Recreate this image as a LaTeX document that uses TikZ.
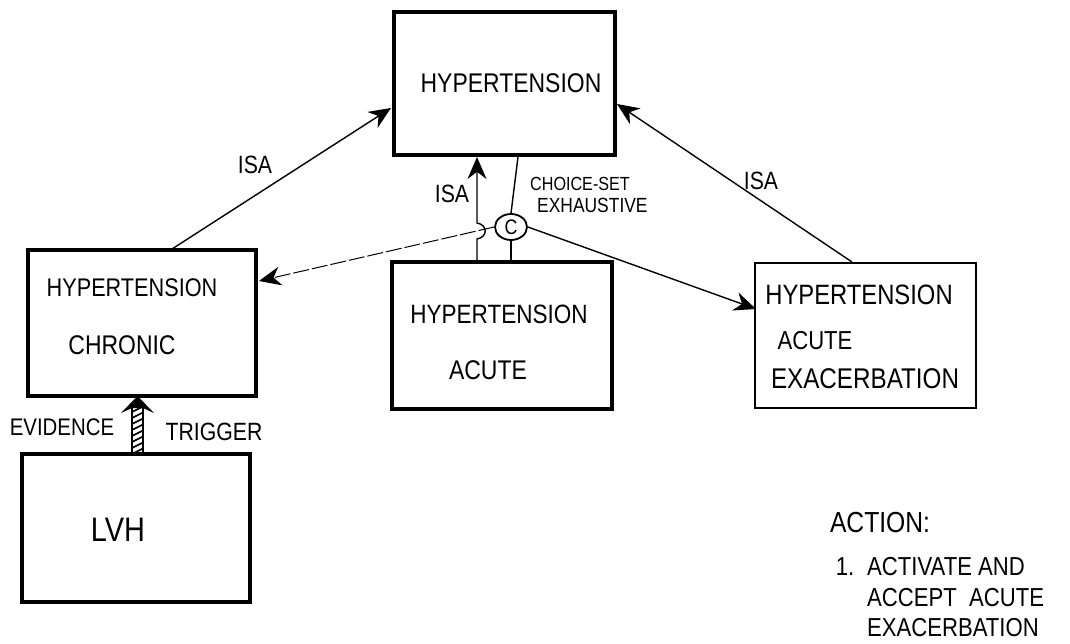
\documentclass[tikz,border=0pt]{standalone}
\usepackage{fontspec}
\setmainfont{Liberation Sans}[FakeStretch=0.85]
\usetikzlibrary{arrows.meta,shapes.geometric}
\begin{document}
\begin{tikzpicture}[x=1pt,y=-1pt,
  hand/.style={inner sep=0pt, font=\fontsize{#1}{#1}\selectfont},
  box/.style={draw, line width=#1, inner sep=0pt},
  conn/.style={line width=1.4pt},
  isa/.style={conn, -{Stealth[length=22pt,width=19pt]}},
  thinarrow/.style={line width=1pt, dash pattern=on 16pt off 3pt, -{Stealth[length=22pt,width=19pt]}}
]
\useasboundingbox (0,0) rectangle (1070,644);

% boxes
\node[box=4.5pt, minimum width=221pt, minimum height=143pt] (top) at (504.5,83.5) {};
\node[box=4pt, minimum width=228pt, minimum height=146pt] (chronic) at (142,323) {};
\node[box=4.5pt, minimum width=228pt, minimum height=148pt] (lvh) at (136,528) {};
\node[box=4.5pt, minimum width=220pt, minimum height=147pt] (acute) at (502,335.5) {};
\node[box=1.5pt, minimum width=221pt, minimum height=145pt] (exac) at (865.5,335.5) {};

% box texts
\node[hand=27] (topT) at (511,83) {HYPERTENSION};
\node[hand=25.5] (chrT1) at (132,288) {HYPERTENSION};
\node[hand=27] (chrT2) at (122,345) {CHRONIC};
\node[hand=34] (lvhT) at (118,530) {LVH};
\node[hand=26.5] (acuT1) at (499,314) {HYPERTENSION};
\node[hand=27] (acuT2) at (488,370) {ACUTE};
\node[hand=28] (exT1) at (859,295) {HYPERTENSION};
\node[hand=26] (exT2) at (815,341) {ACUTE};
\node[hand=28.5] (exT3) at (865,379) {EXACERBATION};

% choice node
\node[draw, ellipse, line width=1.8pt, minimum width=32pt, minimum height=26pt, inner sep=0pt, hand=21] (C) at (511,227) {C};

% coordinates
\coordinate (chrTop) at (172,249);
\coordinate (topL) at (391,108);
\coordinate (exTop) at (852,262);
\coordinate (topR) at (617,104);
\coordinate (acuTopA) at (477,262);
\coordinate (topBotA) at (477,157);
\coordinate (topBotC) at (518,157);
\coordinate (acuTopC) at (511,262);
\coordinate (chrRight) at (259,281);
\coordinate (exLeft) at (756,309);

% ISA connectors
\draw[isa] (chrTop) -- (topL);
\draw[isa] (exTop) -- (topR);
\draw[isa] (acuTopA) -- (477,239) .. controls (488,237) and (488,225) .. (477,223) -- (topBotA);

% choice-set connectors
\draw[conn] (C.north) -- (topBotC);
\draw[conn] (C.south) -- (acuTopC);
\draw[thinarrow] (C.west) -- (chrRight);
\draw[isa] (C.east) -- (exLeft);

% labels
\node[hand=25] (isa1) at (255,165) {ISA};
\node[hand=25] (isa2) at (452,194) {ISA};
\node[hand=25] (isa3) at (761,181) {ISA};
\node[hand=19, anchor=west] (cs1) at (530,184) {CHOICE-SET};
\node[hand=20.5, anchor=west] (cs2) at (537,205) {EXHAUSTIVE};

% evidence trigger arrow
\coordinate (shaftBot) at (137.5,452);
\coordinate (headTip) at (137.5,396);
\begin{scope}
  \clip (132,408) rectangle (143,452);
  \foreach \k in {0,...,12} {
    \draw[line width=1.6pt] (128,414+6*\k) -- (148,404+6*\k);
  }
\end{scope}
\draw[line width=1.4pt] (132,452) -- (132,408) (143,408) -- (143,452);
\fill (headTip) -- (154,413) -- (143,408) -- (132,408) -- (121,413) -- cycle;
\node[hand=24] (evid) at (62,427) {EVIDENCE};
\node[hand=25] (trig) at (214,432) {TRIGGER};

% action text
\node[hand=29] (act) at (880,523) {ACTION:};
\node[hand=26] (act1) at (845,567) {1.};
\node[hand=26, anchor=west] (actL1) at (867,567) {ACTIVATE AND};
\node[hand=26, anchor=west] (actL2) at (867,598) {ACCEPT\ \ ACUTE};
\node[hand=26, anchor=west] (actL3) at (867,628) {EXACERBATION};
\end{tikzpicture}
\end{document}
